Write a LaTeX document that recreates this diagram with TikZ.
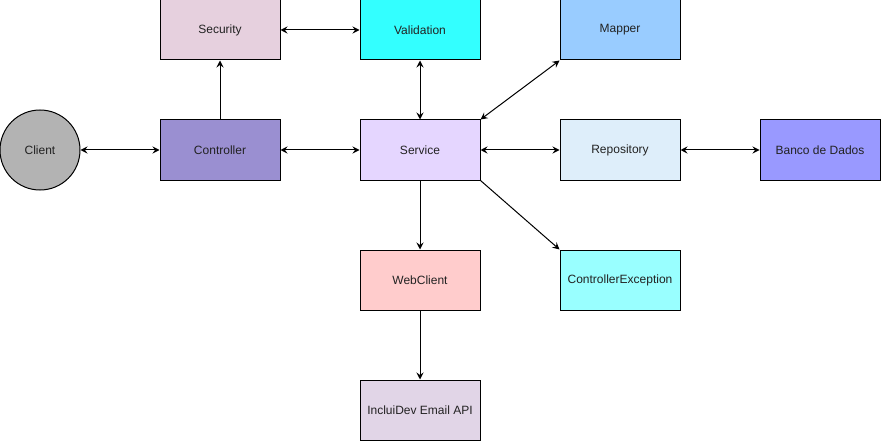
\documentclass[tikz,border=0pt]{standalone}
\usepackage{fontspec}
\setmainfont{Liberation Sans}
\usetikzlibrary{arrows.meta}
\definecolor{cSec}{HTML}{E6D0DE}
\definecolor{cCtrl}{HTML}{9A8FD1}
\definecolor{cVal}{HTML}{33FFFF}
\definecolor{cMap}{HTML}{99CCFF}
\definecolor{cServ}{HTML}{E5D6FF}
\definecolor{cRepo}{HTML}{DEEEFA}
\definecolor{cBanco}{HTML}{9999FF}
\definecolor{cWeb}{HTML}{FFCCCC}
\definecolor{cExc}{HTML}{99FFFF}
\definecolor{cApi}{HTML}{E1D5E7}
\definecolor{cCli}{HTML}{B3B3B3}
\definecolor{txt}{HTML}{222222}
\begin{document}
\begin{tikzpicture}[x=1pt,y=-1pt,
  box/.style={draw=black,line width=1pt,minimum width=120pt,minimum height=60pt,inner sep=0pt,font=\fontsize{12}{14}\selectfont,text=txt},
  circ/.style={draw=black,line width=1pt,circle,minimum size=80pt,inner sep=0pt,font=\fontsize{12}{14}\selectfont,text=txt},
  conn/.style={line width=1pt,-{Stealth[length=7pt,width=7pt,inset=2.5pt]}},
  bconn/.style={line width=1pt,{Stealth[length=7pt,width=7pt,inset=2.5pt]}-{Stealth[length=7pt,width=7pt,inset=2.5pt]}}]
\useasboundingbox (0,0) rectangle (881,441);
\node[circ,fill=cCli] (cli) at (40,150) {Client};
\node[box,fill=cCtrl] (ctrl) at (220,150) {Controller};
\node[box,fill=cSec] (sec) at (220,30) {Security};
\node[box,fill=cVal] (val) at (420,30) {Validation};
\node[box,fill=cMap] (map) at (620,30) {Mapper};
\node[box,fill=cServ] (serv) at (420,150) {Service};
\node[box,fill=cRepo] (repo) at (620,150) {Repository};
\node[box,fill=cBanco] (banco) at (820,150) {Banco de Dados};
\node[box,fill=cWeb] (web) at (420,280) {WebClient};
\node[box,fill=cExc] (exc) at (620,280) {ControllerException};
\node[box,fill=cApi] (api) at (420,410) {IncluiDev Email API};
\draw[bconn] (cli) -- (ctrl);
\draw[conn] (ctrl) -- (sec);
\draw[bconn] (sec) -- (val);
\draw[bconn] (ctrl) -- (serv);
\draw[bconn] (val) -- (serv);
\draw[bconn] (serv.north east) -- (map.south west);
\draw[bconn] (serv) -- (repo);
\draw[bconn] (repo) -- (banco);
\draw[conn] (serv) -- (web);
\draw[conn] (serv.south east) -- (exc.north west);
\draw[conn] (web) -- (api);
\end{tikzpicture}
\end{document}
